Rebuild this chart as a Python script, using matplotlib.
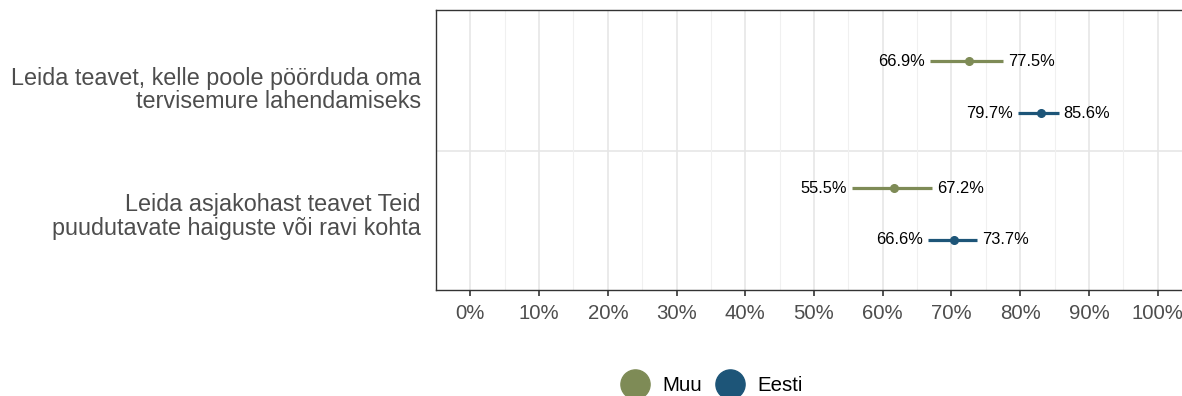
import matplotlib.pyplot as plt
from matplotlib.lines import Line2D

plt.rcParams['font.family'] = ['Liberation Sans', 'DejaVu Sans']

# data
categories = ["Leida teavet, kelle poole pöörduda oma\ntervisemure lahendamiseks",
              "Leida asjakohast teavet Teid\npuudutavate haiguste või ravi kohta"]
groups = ["Muu", "Eesti"]
colors = {"Muu": "#7E8B56", "Eesti": "#1D5578"}
estimate = {"Muu": [72.6, 61.7], "Eesti": [83.0, 70.3]}
lower = {"Muu": [66.9, 55.5], "Eesti": [79.7, 66.6]}
upper = {"Muu": [77.5, 67.2], "Eesti": [85.6, 73.7]}
xticks = list(range(0, 101, 10))

fig = plt.figure(figsize=(11.82, 3.96), dpi=100)
ax = fig.add_axes([436 / 1182, 106 / 396, 756 / 1182, 280 / 396])

# category positions: first category on top
ypos = [2, 1]
offsets = {"Muu": 0.205, "Eesti": -0.205}

for g in groups:
    for i, y0 in enumerate(ypos):
        y = y0 + offsets[g]
        ax.plot([lower[g][i], upper[g][i]], [y, y], color=colors[g], lw=2.3,
                solid_capstyle='butt', zorder=3)
        ax.plot(estimate[g][i], y, 'o', color=colors[g], ms=5.5, zorder=4)
        ax.text(lower[g][i] - 0.7, y, f"{lower[g][i]:.1f}%", ha='right', va='center',
                fontsize=11.8, color='black')
        ax.text(upper[g][i] + 0.7, y, f"{upper[g][i]:.1f}%", ha='left', va='center',
                fontsize=11.8, color='black')

ax.set_xlim(-5, 105)
ax.set_ylim(0.4, 2.61)
ax.set_xticks(xticks)
ax.set_xticklabels([f"{t}%" for t in xticks])
ax.set_xticks([t + 5 for t in xticks[:-1]], minor=True)
ax.set_yticks(ypos)
ax.set_yticklabels(categories, fontsize=16.8, color='#4d4d4d', linespacing=1.02)
ax.tick_params(axis='x', labelsize=14.7, labelcolor='#4d4d4d', length=4, width=1.2,
               color='#333333', pad=6)
ax.tick_params(axis='x', which='minor', length=0)
ax.tick_params(axis='y', length=0, pad=11)

ax.grid(axis='x', which='major', color='#e6e6e6', lw=1.2, zorder=0)
ax.grid(axis='x', which='minor', color='#f0f0f0', lw=0.8, zorder=0)
ax.axhline(1.5, color='#e6e6e6', lw=1.2, zorder=0)
ax.set_axisbelow(True)

for side in ['top', 'left', 'bottom']:
    ax.spines[side].set_color('#333333')
    ax.spines[side].set_linewidth(1.0)
ax.spines['right'].set_visible(False)

handles = [Line2D([], [], marker='o', linestyle='none', color=colors[g], markersize=21)
           for g in groups]
fig.legend(handles, groups, loc='center', bbox_to_anchor=(0.603, 0.027), ncol=2,
           frameon=False, fontsize=14.7, handletextpad=0.75, columnspacing=0.75,
           handlelength=1.2)

fig.savefig("out.png", dpi=100)
